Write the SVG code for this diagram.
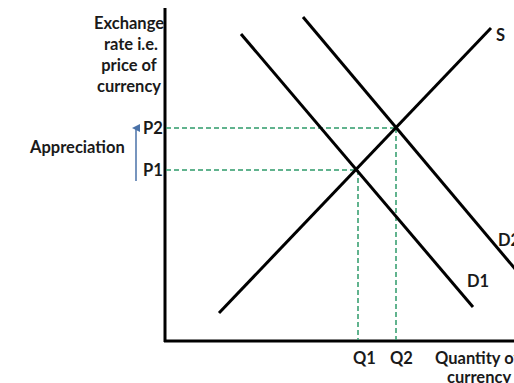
<svg xmlns="http://www.w3.org/2000/svg" width="514" height="383" viewBox="0 0 514 383">
<style>
text{font-family:Lato,"Open Sans","Liberation Sans",sans-serif;font-weight:700;font-size:16.5px;fill:#1a1a1a}
.ax{stroke:#000;stroke-width:3;fill:none}
.cv{stroke:#000;stroke-width:3;fill:none;stroke-linecap:butt}
.dash{stroke:#2e9a6a;stroke-width:1.5;stroke-dasharray:5 3;fill:none}
</style>
<defs>
<marker id="ah" markerWidth="8" markerHeight="8" refX="4" refY="4" orient="auto" markerUnits="userSpaceOnUse">
<path d="M0,8 L4,0 L8,8 Z" fill="#4a72a8"/>
</marker>
</defs>
<rect width="514" height="383" fill="#fff"/>
<g id="axes">
<line class="ax" x1="165" y1="8" x2="165" y2="342"/>
<line class="ax" x1="164" y1="341" x2="514" y2="341"/>
</g>
<g id="y-label">
<text text-anchor="middle" x="129" y="29">Exchange</text>
<text text-anchor="middle" x="131" y="50">rate i.e.</text>
<text text-anchor="middle" x="129" y="71">price of</text>
<text text-anchor="middle" x="129" y="92">currency</text>
</g>
<g id="connectors">
<line class="dash" x1="166" y1="128" x2="396" y2="128"/>
<line class="dash" x1="166" y1="170" x2="357" y2="170"/>
<line class="dash" x1="358" y1="170" x2="358" y2="340"/>
<line class="dash" x1="396" y1="128" x2="396" y2="340"/>
<line x1="136" y1="181" x2="136" y2="128" stroke="#4a72a8" stroke-width="1.5" marker-end="url(#ah)"/>
</g>
<g id="S">
<line class="cv" x1="219" y1="313" x2="491" y2="28"/>
<text x="496" y="41">S</text>
</g>
<g id="D1">
<line class="cv" x1="241" y1="34" x2="473" y2="307"/>
<text x="467" y="287">D1</text>
</g>
<g id="D2">
<line class="cv" x1="303" y1="17" x2="516" y2="270"/>
<text x="498" y="246">D2</text>
</g>
<g id="P2"><text x="143" y="134">P2</text></g>
<g id="P1"><text x="143" y="176">P1</text></g>
<g id="appreciation"><text x="30" y="153">Appreciation</text></g>
<g id="Q1"><text x="353" y="364">Q1</text></g>
<g id="Q2"><text x="390" y="364">Q2</text></g>
<g id="x-label">
<text x="435" y="364">Quantity of</text>
<text x="447" y="383">currency</text>
</g>
</svg>
